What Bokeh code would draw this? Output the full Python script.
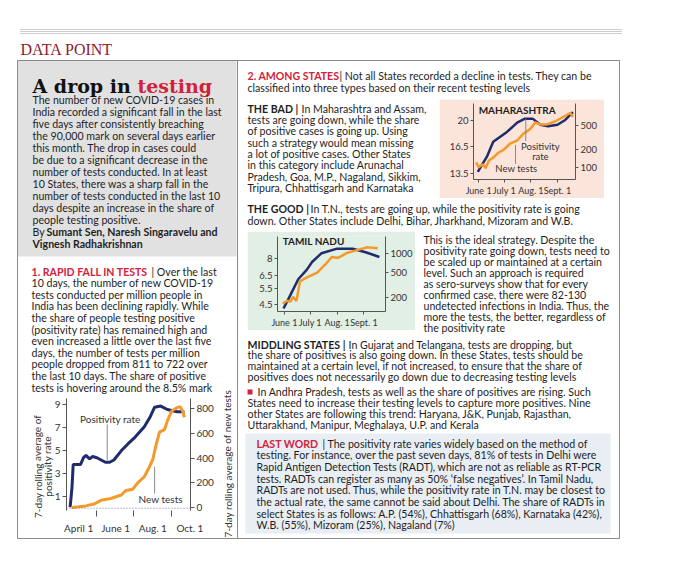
import pandas as pd
from bokeh.plotting import figure
from bokeh.models import (Range1d, LinearAxis, LogAxis, LogScale, FixedTicker, Span, Label,
                          CustomJSTickFormatter)
from bokeh.embed import file_html
from bokeh.resources import INLINE
from bokeh.core.properties import value

# ---------------- data ----------------
india_pos_dates = ["03-18", "03-21", "03-23", "04-04", "04-09", "04-13", "04-19", "04-24", "05-01",
                   "05-08", "05-15", "05-22", "05-29", "06-10", "06-21", "07-03", "07-18", "07-28",
                   "08-04", "08-14", "08-25", "09-10", "09-22"]
india_pos = [0.1, 1.8, 3.8, 3.8, 4.4, 4.6, 4.3, 4.5, 4.4, 4.2, 4.0, 4.0, 4.2, 5.0, 5.6, 6.2, 7.1,
             8.0, 8.8, 8.9, 8.6, 8.4, 8.4]
india_test_dates = ["03-20", "04-01", "04-13", "04-26", "05-08", "05-24", "06-10", "06-18", "06-29",
                    "07-07", "07-18", "07-26", "08-01", "08-06", "08-12", "08-20", "08-25", "09-01",
                    "09-09", "09-15", "09-19", "09-22"]
india_tests = [2, 8, 15, 30, 60, 75, 103, 140, 150, 200, 250, 325, 390, 500, 610, 630, 700, 780,
               805, 815, 780, 730]
india_left_ticks = [1, 3, 5, 7, 9]
india_right_ticks = [0, 200, 400, 600, 800]
india_x_ticks = ["04-01", "06-01", "08-01", "10-01"]
india_x_labels = ["April 1", "June 1", "Aug. 1", "Oct. 1"]
india_x_minor = ["05-01", "07-01", "09-01"]

maha_pos_dates = ["05-31", "06-11", "06-18", "07-04", "07-16", "07-25", "08-03", "08-12", "08-21",
                  "09-01", "09-10", "09-19"]
maha_pos = [13.7, 15.4, 17.1, 18.4, 19.7, 20.3, 20.3, 19.4, 19.2, 19.4, 20.1, 21.3]
maha_test_dates = ["05-29", "06-01", "06-06", "06-09", "06-13", "06-18", "06-24", "06-30", "07-08",
                   "07-16", "07-23", "07-31", "08-06", "08-12", "08-20", "08-29", "09-06", "09-16",
                   "09-19"]
maha_tests = [120, 100, 112, 96, 129, 144, 174, 194, 250, 279, 360, 432, 558, 518, 518, 579, 670,
              805, 695]
maha_left_ticks = [13.5, 16.5, 20]
maha_right_ticks = [100, 200, 500]

tn_pos_dates = ["05-31", "06-08", "06-17", "06-27", "07-03", "07-14", "08-01", "08-19", "09-03",
                "09-19"]
tn_pos = [4.3, 5.1, 6.2, 7.0, 7.7, 8.6, 9.1, 9.1, 8.7, 8.2]
tn_test_dates = ["05-30", "06-04", "06-08", "06-11", "06-15", "06-19", "06-27", "07-09", "07-20",
                 "07-26", "08-02", "08-12", "08-24", "09-05", "09-17"]
tn_tests = [163, 181, 175, 208, 180, 363, 418, 497, 705, 870, 840, 1000, 1110, 1230, 1190]
tn_left_ticks = [4.5, 5.5, 6.5, 8]
tn_right_ticks = [200, 500, 1000]

state_x_ticks = ["06-01", "07-01", "08-01", "09-01"]
state_x_labels = ["June 1", "July 1", "Aug. 1", "Sept. 1"]

NAVY = "#1f2b6c"
ORANGE = "#f39a2b"
RED = "#d3213b"
INK = "#1e1e1e"
AX = "#555555"
FONT = "Lato"
BODY = "10.6px"


def doy(md):
    return (pd.Timestamp("2020-" + md) - pd.Timestamp("2020-01-01")).days


def place(left, top):
    return {"position": "absolute", "left": f"{left}px", "top": f"{top}px"}


def style_axis(ax, size="9.5px"):
    ax.major_label_text_font = FONT
    ax.major_label_text_font_size = size
    ax.major_label_text_color = "#333333"
    ax.axis_line_color = AX
    ax.major_tick_line_color = AX
    ax.minor_tick_line_color = AX
    ax.major_tick_out = 3
    ax.major_tick_in = 0
    ax.minor_tick_out = 0
    ax.minor_tick_in = 0
    ax.major_label_standoff = 2


num_fmt = CustomJSTickFormatter(code="return String(tick)")

# ---------------- main canvas (layout + text) ----------------
p = figure(width=664, height=570, x_range=Range1d(0, 664), y_range=Range1d(570, 0),
           output_backend="svg", toolbar_location=None, min_border=0,
           x_axis_location=None, y_axis_location=None, outline_line_color=None)
p.xgrid.grid_line_color = None
p.ygrid.grid_line_color = None

# dotted rule
for yy in (29, 31, 33):
    p.segment(x0=[20], y0=[yy], x1=[622], y1=[yy], line_color="#9a9a9a", line_dash="1 1",
              line_width=1)
p.text(x=[20], y=[49], text=["DATA POINT"], text_color="#8e1b30",
       text_font=value("Liberation Serif"), text_font_size="16px", text_baseline="middle")

# panels
p.quad(left=[17], right=[236], top=[60], bottom=[256], fill_color="#e1e1e1", line_color=None)
p.quad(left=[245], right=[610], top=[433], bottom=[533], fill_color="#e8eef4", line_color=None)
p.quad(left=[17], right=[619], top=[60], bottom=[538], fill_color=None, line_color="#8a8a8a")
p.segment(x0=[237], y0=[60], x1=[237], y1=[538], line_color="#8a8a8a")
p.quad(left=[247], right=[252], top=[389], bottom=[394], fill_color=RED, line_color=None)


def block(x, y0, dy, lines, color=INK, size=BODY, style="normal", font=FONT):
    ys = [y0 + i * dy for i in range(len(lines))]
    p.text(x=[x] * len(lines), y=ys, text=lines, text_color=color, text_font=value(font),
           text_font_size=size, text_font_style=style, text_baseline="middle")


# heading
p.text(x=[32], y=[85], text=["A drop in"], text_color="#111111", text_font=value("DejaVu Serif"),
       text_font_size="19px", text_font_style="bold", text_baseline="alphabetic")
p.text(x=[137], y=[85], text=["testing"], text_color=RED, text_font=value("DejaVu Serif"),
       text_font_size="19px", text_font_style="bold", text_baseline="alphabetic")

intro = ["The number of new COVID-19 cases in",
         "India recorded a significant fall in the last",
         "five days after consistently breaching",
         "the 90,000 mark on several days earlier",
         "this month. The drop in cases could",
         "be due to a significant decrease in the",
         "number of tests conducted. In at least",
         "10 States, there was a sharp fall in the",
         "number of tests conducted in the last 10",
         "days despite an increase in the share of",
         "people testing positive."]
block(32, 99.3, 12.05, intro)
block(32, 99.3 + 11 * 12.05, 12.05, ["By"])
block(46, 99.3 + 11 * 12.05, 12.05, ["Sumant Sen, Naresh Singaravelu and"], style="bold")
block(32, 99.3 + 12 * 12.05, 12.05, ["Vignesh Radhakrishnan"], style="bold")

sec1 = ["10 days, the number of new COVID-19",
        "tests conducted per million people in",
        "India has been declining rapidly. While",
        "the share of people testing positive",
        "(positivity rate) has remained high and",
        "even increased a little over the last five",
        "days, the number of tests per million",
        "people dropped from 811 to 722 over",
        "the last 10 days. The share of positive",
        "tests is hovering around the 8.5% mark"]
block(31, 271, 11.6, ["1. RAPID FALL IN TESTS"], color=RED, style="bold")
block(151, 271, 11.6, ["| Over the last"])
block(31, 271 + 11.6, 11.6, sec1)

block(247, 75, 12, ["2. AMONG STATES"], color=RED, style="bold")
block(339, 75, 12, ["| Not all States recorded a decline in tests. They can be"])
block(247, 87, 12, ["classified into three types based on their recent testing levels"])

bad = ["tests are going down, while the share",
       "of positive cases is going up. Using",
       "such a strategy would mean missing",
       "a lot of positive cases. Other States",
       "in this category include Arunachal",
       "Pradesh, Goa, M.P., Nagaland, Sikkim,",
       "Tripura, Chhattisgarh and Karnataka"]
block(247, 108.3, 11.3, ["THE BAD |"], style="bold")
block(301, 108.3, 11.3, ["In Maharashtra and Assam,"])
block(247, 108.3 + 11.3, 11.3, bad)

block(247, 208, 12, ["THE GOOD |"], style="bold")
block(310, 208, 12, ["In T.N., tests are going up, while the positivity rate is going"])
block(247, 220, 12, ["down. Other States include Delhi, Bihar, Jharkhand, Mizoram and W.B."])

good = ["This is the ideal strategy. Despite the",
        "positivity rate going down, tests need to",
        "be scaled up or maintained at a certain",
        "level. Such an approach is required",
        "as sero-surveys show that for every",
        "confirmed case, there were 82-130",
        "undetected infections in India. Thus, the",
        "more the tests, the better, regardless of",
        "the positivity rate"]
block(423, 239, 11, good)

mid = ["the share of positives is also going down. In these States, tests should be",
       "maintained at a certain level, if not increased, to ensure that the share of",
       "positives does not necessarily go down due to decreasing testing levels"]
block(247, 344, 10.95, ["MIDDLING STATES |"], style="bold")
block(348, 344, 10.95, ["In Gujarat and Telangana, tests are dropping, but"])
block(247, 344 + 10.95, 10.95, mid)

andhra = ["States need to increase their testing levels to capture more positives. Nine",
          "other States are following this trend: Haryana, J&K, Punjab, Rajasthan,",
          "Uttarakhand, Manipur, Meghalaya, U.P. and Kerala"]
block(257, 391.7, 10.9, ["In Andhra Pradesh, tests as well as the share of positives are rising. Such"])
block(247, 391.7 + 10.9, 10.9, andhra)

last = ["testing. For instance, over the past seven days, 81% of tests in Delhi were",
        "Rapid Antigen Detection Tests (RADT), which are not as reliable as RT-PCR",
        "tests. RADTs can register as many as 50% \u2018false negatives\u2019. In Tamil Nadu,",
        "RADTs are not used. Thus, while the positivity rate in T.N. may be closest to",
        "the actual rate, the same cannot be said about Delhi. The share of RADTs in",
        "select States is as follows: A.P. (54%), Chhattisgarh (68%), Karnataka (42%),",
        "W.B. (55%), Mizoram (25%), Nagaland (7%)"]
block(256, 443.3, 11.67, ["LAST WORD"], color=RED, style="bold")
block(322, 443.3, 11.67, ["| The positivity rate varies widely based on the method of"])
block(256, 443.3 + 11.67, 11.67, last)

# rotated axis titles of the India chart
p.text(x=[37, 47], y=[466, 466], text=["7-day rolling average of", "positivity rate"],
       angle=1.5708, text_align="center", text_baseline="middle", text_color="#333333",
       text_font=value(FONT), text_font_size="10px")
p.text(x=[227], y=[463], text=["7-day rolling average of new tests"], angle=1.5708,
       text_align="center", text_baseline="middle", text_color="#333333",
       text_font=value(FONT), text_font_size="10px")

# ---------------- India chart ----------------
ind = figure(width=212, height=144, x_range=Range1d(doy("03-12"), doy("10-02")),
             y_range=Range1d(-0.2, 9.56), output_backend="svg", toolbar_location=None,
             min_border_left=44, min_border_right=44, min_border_top=6, min_border_bottom=16,
             background_fill_alpha=0, border_fill_alpha=0, outline_line_color=None,
             styles=place(22, 392))
ind.xgrid.grid_line_color = None
ind.ygrid.grid_line_color = None
ind.extra_y_ranges = {"tests": Range1d(-22, 881)}
ind.add_layout(LinearAxis(y_range_name="tests"), "right")
for ax, ticks in zip(ind.yaxis, (india_left_ticks, india_right_ticks)):
    style_axis(ax, "10px")
    ax.ticker = FixedTicker(ticks=ticks)
    ax.major_tick_out = 4
xa = ind.xaxis[0]
style_axis(xa, "10px")
xa.ticker = FixedTicker(ticks=[doy(d) for d in india_x_ticks],
                        minor_ticks=[doy(d) for d in india_x_minor])
xa.major_label_overrides = {doy(d): l for d, l in zip(india_x_ticks, india_x_labels)}
xa.axis_line_color = None
xa.major_tick_out = 0
xa.minor_tick_out = 6
xa.major_label_standoff = 5
ind.add_layout(Span(location=0, dimension="width", line_color="#6a7aa0", line_dash="1 2",
                    line_width=1))
ind.line([doy(d) for d in india_pos_dates], india_pos, line_color=NAVY, line_width=3)
ind.line([doy(d) for d in india_test_dates], india_tests, y_range_name="tests",
         line_color=ORANGE, line_width=3)
ind.segment(x0=[doy("05-18")], y0=[7.3], x1=[doy("05-18")], y1=[4.2], line_color="#8a8a8a")
ind.segment(x0=[doy("08-04")], y0=[115], x1=[doy("08-04")], y1=[330], line_color="#8a8a8a",
            y_range_name="tests")
ind.add_layout(Label(x=doy("05-23"), y=7.8, text="Positivity rate", text_align="center",
                     text_baseline="middle", text_font=FONT, text_font_size="10px",
                     text_color="#333333"))
ind.add_layout(Label(x=doy("08-14"), y=74, y_range_name="tests", text="New tests",
                     text_align="center", text_baseline="middle", text_font=FONT,
                     text_font_size="10px", text_color="#333333"))


# ---------------- state charts ----------------
def state_chart(w, h, borders, xr, yl, yr, lticks, rticks, bg, styles_pos):
    f = figure(width=w, height=h, x_range=Range1d(doy(xr[0]), doy(xr[1])),
               y_range=Range1d(*yl), y_axis_type="log", output_backend="svg",
               toolbar_location=None, min_border_left=borders[0], min_border_right=borders[1],
               min_border_top=borders[2], min_border_bottom=borders[3],
               background_fill_color=bg, border_fill_color=bg, outline_line_color=None,
               styles=styles_pos)
    f.xgrid.grid_line_color = None
    f.ygrid.grid_line_color = None
    f.extra_y_ranges = {"tests": Range1d(*yr)}
    f.extra_y_scales = {"tests": LogScale()}
    f.add_layout(LogAxis(y_range_name="tests"), "right")
    for ax, ticks in zip(f.yaxis, (lticks, rticks)):
        style_axis(ax)
        ax.ticker = FixedTicker(ticks=ticks)
        ax.formatter = num_fmt
    xa = f.xaxis[0]
    style_axis(xa, "9px")
    xa.ticker = FixedTicker(ticks=[doy(d) for d in state_x_ticks])
    xa.major_label_overrides = {doy(d): l for d, l in zip(state_x_ticks, state_x_labels)}
    return f


mh = state_chart(165, 99, (34, 29, 4, 16), ("05-26", "09-22"), (12.95, 22.7),
                 (62, 1160), maha_left_ticks, maha_right_ticks, "#fbe4da", place(439, 99))
mh.line([doy(d) for d in maha_pos_dates], maha_pos, line_color=NAVY, line_width=2.5)
mh.line([doy(d) for d in maha_test_dates], maha_tests, y_range_name="tests",
        line_color=ORANGE, line_width=2.5)
mh.segment(x0=[doy("07-26")], y0=[20.2], x1=[doy("07-26")], y1=[17.2], line_color="#8a8a8a")
mh.segment(x0=[doy("07-14")], y0=[235], x1=[doy("07-14")], y1=[113], line_color="#8a8a8a",
           y_range_name="tests")
mh.add_layout(Label(x=doy("06-01"), y=21.6, text="MAHARASHTRA", text_baseline="middle",
                    text_font=FONT, text_font_size="10px", text_font_style="bold",
                    text_color="#1e1e1e"))
mh.add_layout(Label(x=doy("08-12"), y=16.5, text="Positivity", text_align="center",
                    text_baseline="middle", text_font=FONT, text_font_size="9.5px",
                    text_color="#333333"))
mh.add_layout(Label(x=doy("08-12"), y=15.4, text="rate", text_align="center",
                    text_baseline="middle", text_font=FONT, text_font_size="9.5px",
                    text_color="#333333"))
mh.add_layout(Label(x=doy("07-15"), y=93, y_range_name="tests", text="New tests",
                    text_align="center", text_baseline="middle", text_font=FONT,
                    text_font_size="9.5px", text_color="#333333"))

tn = state_chart(168, 99, (30, 29, 5, 17), ("05-24", "09-26"), (4.14, 10.6),
                 (123, 1810), tn_left_ticks, tn_right_ticks, "#e2efe5", place(247, 231))
tn.line([doy(d) for d in tn_pos_dates], tn_pos, line_color=NAVY, line_width=2.5)
tn.line([doy(d) for d in tn_test_dates], tn_tests, y_range_name="tests",
        line_color=ORANGE, line_width=2.5)
tn.add_layout(Label(x=doy("05-30"), y=9.96, text="TAMIL NADU", text_baseline="middle",
                    text_font=FONT, text_font_size="10px", text_font_style="bold",
                    text_color="#1e1e1e"))

open("out.html", "w").write(file_html([p, ind, mh, tn], INLINE))
